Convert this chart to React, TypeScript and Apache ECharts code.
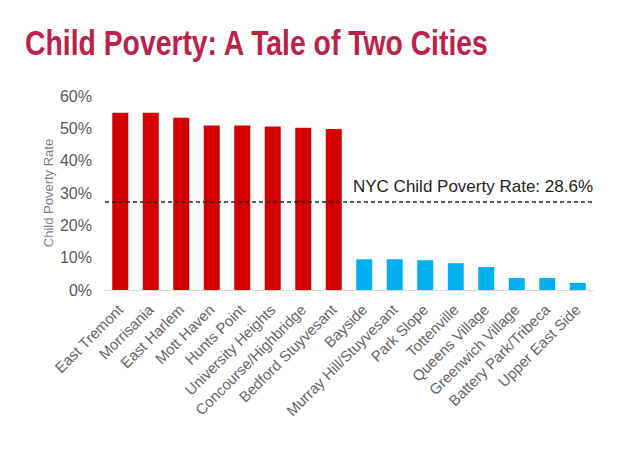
import React, { useEffect, useRef } from "react";
import * as echarts from "echarts";

const titleText = "Child Poverty: A Tale of Two Cities";
const yAxisName = "Child Poverty Rate";
const categories = [
  "East Tremont",
  "Morrisania",
  "East Harlem",
  "Mott Haven",
  "Hunts Point",
  "University Heights",
  "Concourse/Highbridge",
  "Bedford Stuyvesant",
  "Bayside",
  "Murray Hill/Stuyvesant",
  "Park Slope",
  "Tottenville",
  "Queens Village",
  "Greenwich Village",
  "Battery Park/Tribeca",
  "Upper East Side",
];
const values = [54.8, 54.8, 53.3, 50.9, 50.9, 50.6, 50.2, 49.8, 9.5, 9.5, 9.2, 8.3, 7.1, 3.7, 3.7, 2.2];
const highGroupCount = 8;
const nycRateLine = 27.4;
const nycRateLabel = "NYC Child Poverty Rate: 28.6%";
const yTicks = [0, 10, 20, 30, 40, 50, 60];

const RED = "#D20000";
const BLUE = "#00B0F0";

export default function App() {
  const ref = useRef<HTMLDivElement>(null);
  useEffect(() => {
    if (!ref.current) return;
    const chart = echarts.init(ref.current, null, { renderer: "svg" });
    chart.setOption({
      animation: false,
      backgroundColor: "#ffffff",
      textStyle: { fontFamily: "Liberation Sans, Arial, sans-serif" },
      graphic: [
        {
          type: "text",
          x: 25,
          y: 43,
          scaleX: 0.81,
          style: {
            text: titleText,
            fill: "#BC2249",
            font: "bold 35px 'Liberation Sans', Arial, sans-serif",
            align: "left",
            verticalAlign: "middle",
          },
        },
      ],
      grid: { left: 105, right: 26, top: 96, bottom: 162, containLabel: false },
      xAxis: {
        type: "category",
        data: categories,
        axisLine: { lineStyle: { color: "#d9d9d9", width: 1 } },
        axisTick: { show: false },
        axisLabel: {
          rotate: 45,
          interval: 0,
          margin: 17,
          color: "#666666",
          fontSize: 15,
          fontFamily: "Liberation Sans, Arial, sans-serif",
        },
      },
      yAxis: {
        type: "value",
        min: yTicks[0],
        max: yTicks[yTicks.length - 1],
        interval: 10,
        name: yAxisName,
        nameLocation: "middle",
        nameGap: 50,
        nameMoveOverlap: false,
        nameTextStyle: { color: "#7f7f7f", fontSize: 13, fontFamily: "Liberation Sans, Arial, sans-serif" },
        axisLine: { show: false },
        axisTick: { show: false },
        splitLine: { show: false },
        axisLabel: {
          formatter: "{value}%",
          color: "#595959",
          fontSize: 16,
          margin: 13,
          fontFamily: "Liberation Sans, Arial, sans-serif",
        },
      },
      series: [
        {
          type: "bar",
          barWidth: 16,
          data: values.map((v, i) => ({
            value: v,
            itemStyle: { color: i < highGroupCount ? RED : BLUE },
          })),
          markLine: {
            symbol: ["none", "none"],
            silent: true,
            lineStyle: { color: "#222222", type: [4, 3], width: 1.5 },
            label: {
              show: true,
              position: "insideEndTop",
              formatter: nycRateLabel,
              color: "#222222",
              fontSize: 17,
              distance: [0, 6],
              fontFamily: "Liberation Sans, Arial, sans-serif",
            },
            data: [{ yAxis: nycRateLine }],
          },
        },
      ],
    });
    return () => chart.dispose();
  }, []);
  return <div ref={ref} style={{ width: 619, height: 452, position: "absolute", left: 0, top: 0 }} />;
}
